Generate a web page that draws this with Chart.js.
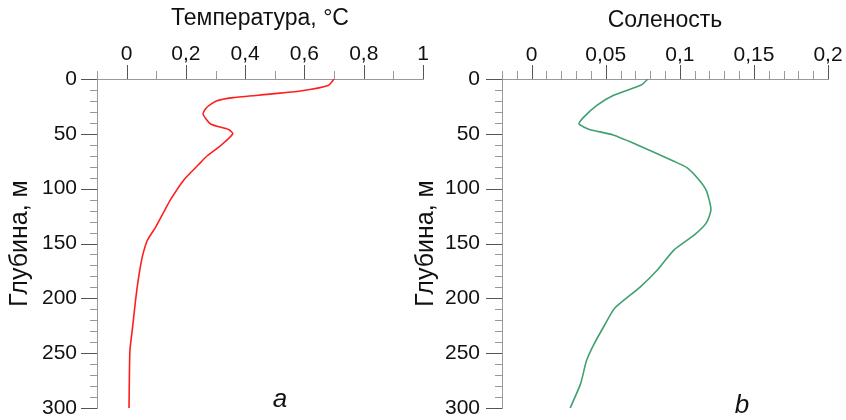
<!DOCTYPE html>
<html>
<head>
<meta charset="utf-8">
<script src="https://cdn.jsdelivr.net/npm/chart.js@4.4.0/dist/chart.umd.min.js"></script>
<style>
body{margin:0;background:#fff;}
#wrap{position:relative;width:846px;height:420px;overflow:hidden;}
#wrap canvas{position:absolute;top:0;}
</style>
</head>
<body>
<div id="wrap">
<canvas id="tempChart" width="440" height="420" style="left:0"></canvas>
<canvas id="salChart" width="446" height="420" style="left:400px"></canvas>
</div>
<script>
// temperature profile (panel a)
var depthTemp = [0, 6, 11, 14, 17, 20, 26, 32, 41, 46, 50, 61, 70, 78, 92, 110, 121, 135, 147, 162, 180, 202, 229, 248, 300];
var tempValues = [0.70, 0.68, 0.586, 0.474, 0.36, 0.303, 0.27, 0.258, 0.283, 0.344, 0.358, 0.316, 0.272, 0.243, 0.193, 0.148, 0.126, 0.098, 0.07, 0.053, 0.041, 0.03, 0.019, 0.011, 0.008];

// salinity profile (panel b)
var depthSal = [0, 5.5, 15, 24, 35, 41, 46, 51, 61, 75, 81, 92, 102, 119, 131, 142, 156, 174, 190, 209, 225, 242, 257, 278, 300];
var salValues = [0.0785, 0.074, 0.055, 0.044, 0.035, 0.032, 0.039, 0.055, 0.073, 0.096, 0.105, 0.113, 0.118, 0.121, 0.118, 0.11, 0.096, 0.085, 0.073, 0.056, 0.049, 0.042, 0.037, 0.033, 0.026];

var depthTitle = 'Глубина, м';
var tempTitle = 'Температура, °C';
var salTitle = 'Соленость';

var FONT = '"Liberation Sans", Arial, sans-serif';

function toPoints(xs, ys){
	var pts = [];
	for(var i=0;i<xs.length;i++){
		pts.push({x: xs[i], y: ys[i]});
	}
	return pts;
}

function isMajor(v, step){
	var r = v/step;
	return Math.abs(r - Math.round(r)) < 1e-6;
}

function fmt(v){
	return String(parseFloat(v.toFixed(4))).replace('.', ',');
}

// draws the tick marks (long for labelled, short for minor) and the panel letter
var tickMarks = {
	id: 'tickMarks',
	afterDraw: function(chart, args, o){
		var ctx = chart.ctx;
		var xs = chart.scales.x, ys = chart.scales.y;
		ctx.save();
		ctx.lineWidth = 1;
		xs.ticks.forEach(function(t, i){
			var major = isMajor(t.value, o.xStep) && t.value >= 0;
			var px = Math.round(xs.getPixelForTick(i)) + 0.5;
			ctx.strokeStyle = major ? '#555' : '#999';
			ctx.beginPath();
			ctx.moveTo(px, xs.bottom);
			ctx.lineTo(px, xs.bottom - (major ? 14 : 8));
			ctx.stroke();
		});
		ys.ticks.forEach(function(t, i){
			var major = isMajor(t.value, o.yStep);
			var py = Math.round(ys.getPixelForTick(i)) + 0.5;
			ctx.strokeStyle = major ? '#555' : '#999';
			ctx.beginPath();
			ctx.moveTo(ys.right, py);
			ctx.lineTo(ys.right - (major ? 16 : 7), py);
			ctx.stroke();
		});
		ctx.fillStyle = '#111';
		ctx.font = 'italic 26px ' + FONT;
		ctx.textAlign = 'center';
		ctx.textBaseline = 'alphabetic';
		ctx.fillText(o.letter, o.letterX, o.letterY);
		ctx.restore();
	}
};

function noPad(s){
	s.paddingLeft = 0; s.paddingRight = 0;
	s.paddingTop = 0; s.paddingBottom = 0;
}

function makeChart(id, pts, color, cfg){
	var ctx = document.getElementById(id);
	return new Chart(ctx, {
		type: 'line',
		data: {
			datasets: [{
				data: pts,
				borderColor: color,
				borderWidth: 1.6,
				pointRadius: 0,
				tension: 0.2,
				fill: false
			}]
		},
		options: {
			responsive: false,
			animation: false,
			layout: {padding: cfg.padding},
			plugins: {
				legend: {display: false},
				tooltip: {enabled: false},
				tickMarks: cfg.marks
			},
			scales: {
				x: {
					type: 'linear',
					position: 'top',
					min: cfg.xMin,
					max: cfg.xMax,
					afterFit: function(s){ s.height = 79; noPad(s); },
					grid: {display: false, drawTicks: false},
					border: {display: true, color: '#999', width: 1},
					ticks: {
						stepSize: cfg.xMinor,
						padding: cfg.xPad,
						maxRotation: 0,
						autoSkip: false,
						color: '#111',
						font: {family: FONT, size: 21},
						callback: function(v){
							return (isMajor(v, cfg.marks.xStep) && v >= 0) ? fmt(v) : '';
						}
					},
					title: {
						display: true,
						text: cfg.xTitle,
						color: '#111',
						font: {family: FONT, size: 23},
						padding: {top: cfg.xTitlePad, bottom: 0}
					}
				},
				y: {
					type: 'linear',
					reverse: true,
					min: 0,
					max: 300,
					afterFit: function(s){ s.width = cfg.yWidth; noPad(s); },
					grid: {display: false, drawTicks: false},
					border: {display: true, color: '#999', width: 1},
					ticks: {
						stepSize: 10,
						padding: cfg.yPad,
						autoSkip: false,
						color: '#111',
						font: {family: FONT, size: 21},
						callback: function(v){
							return isMajor(v, 50) ? String(v) : '';
						}
					},
					title: {
						display: true,
						text: depthTitle,
						color: '#111',
						font: {family: FONT, size: 25},
						padding: {top: cfg.yTitlePad, bottom: 0}
					}
				}
			}
		},
		plugins: [tickMarks]
	});
}

makeChart('tempChart', toPoints(tempValues, depthTemp), '#ff1e1e', {
	padding: {left: 0, top: 0, right: 17, bottom: 12},
	xMin: -0.1, xMax: 1, xMinor: 0.1,
	xTitle: tempTitle, xTitlePad: 5, xPad: 12,
	yWidth: 97, yPad: 20, yTitlePad: 5,
	marks: {xStep: 0.2, yStep: 50, letter: 'a', letterX: 280, letterY: 407}
});

makeChart('salChart', toPoints(salValues, depthSal), '#40a070', {
	padding: {left: 0, top: 0, right: 18, bottom: 12},
	xMin: -0.02, xMax: 0.2, xMinor: 0.01,
	xTitle: salTitle, xTitlePad: 7, xPad: 11,
	yWidth: 102, yPad: 22, yTitlePad: 11,
	marks: {xStep: 0.05, yStep: 50, letter: 'b', letterX: 342, letterY: 413}
});
</script>
</body>
</html>
